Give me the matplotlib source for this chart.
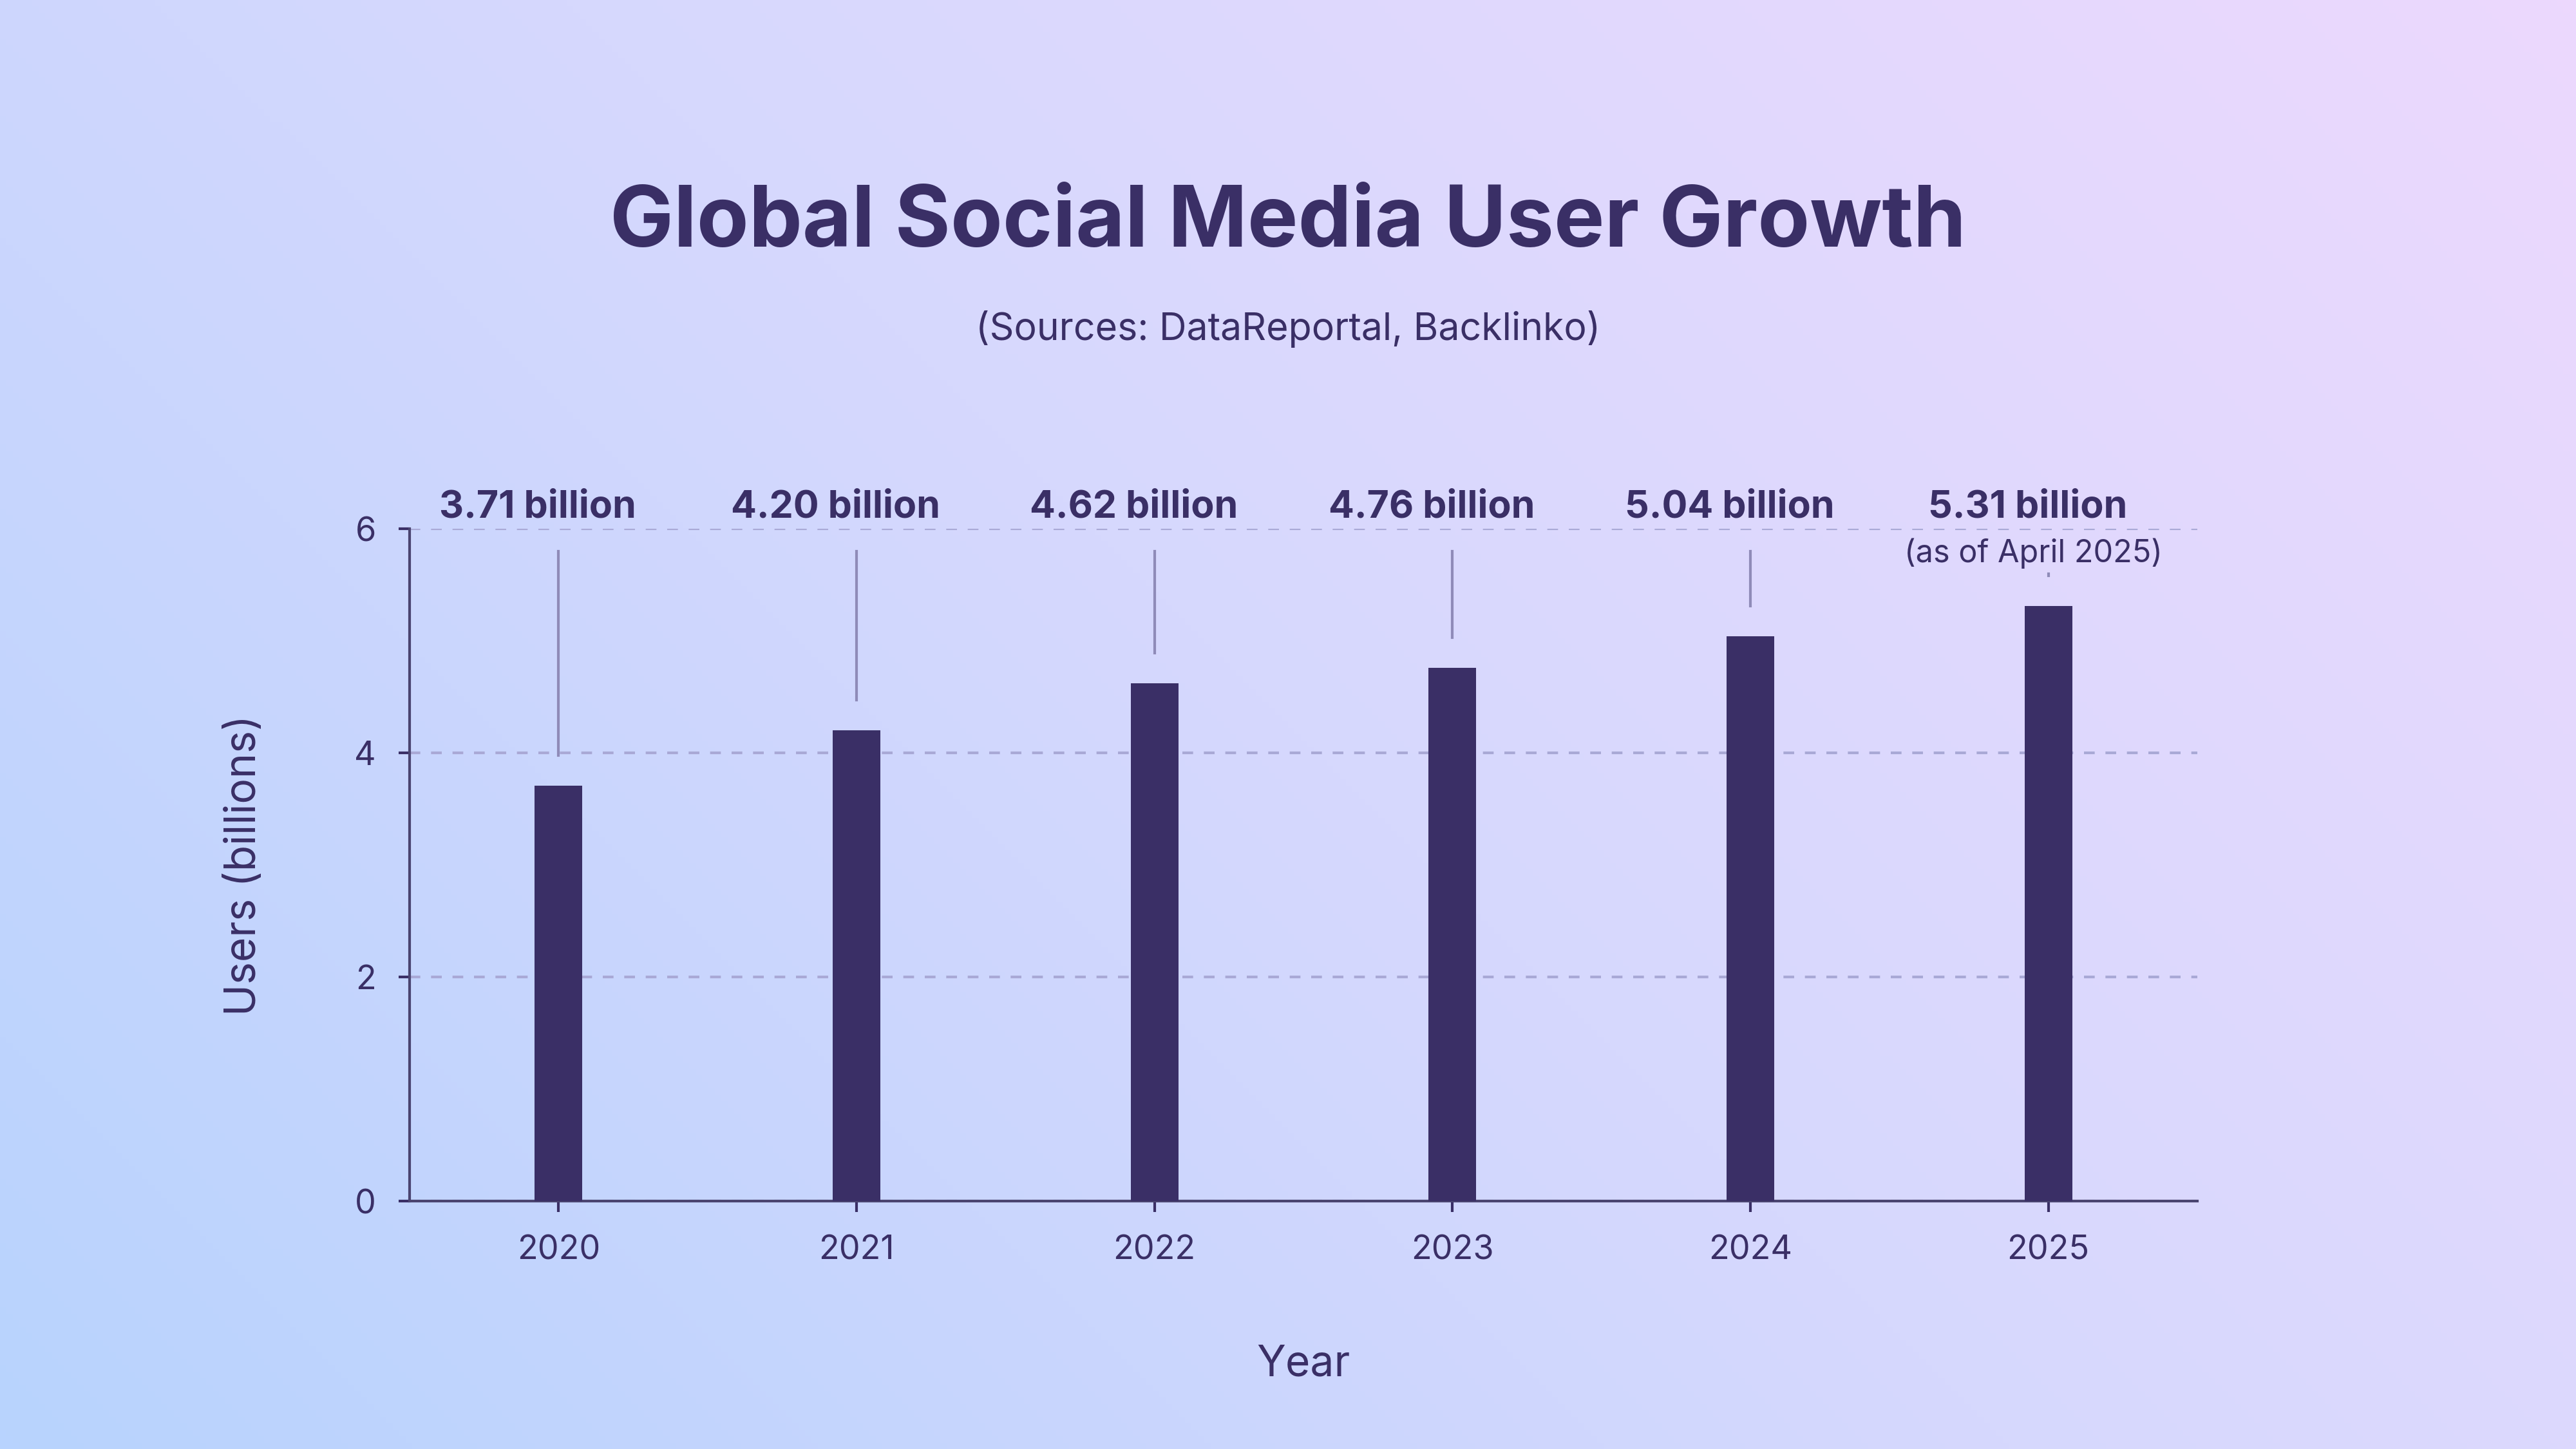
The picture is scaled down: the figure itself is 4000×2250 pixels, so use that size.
import numpy as np
import matplotlib
matplotlib.use("Agg")
import matplotlib.pyplot as plt
from matplotlib.colors import LinearSegmentedColormap

years = ["2020", "2021", "2022", "2023", "2024", "2025"]
users = [3.71, 4.20, 4.62, 4.76, 5.04, 5.31]
labels = ["3.71 billion", "4.20 billion", "4.62 billion", "4.76 billion", "5.04 billion", "5.31 billion"]
yticks = [0, 2, 4, 6]

plt.rcParams['font.family'] = ['Inter', 'DejaVu Sans']
dark = "#3a2f66"
fig = plt.figure(figsize=(16, 9), dpi=250)

# gradient background
bg = fig.add_axes([0, 0, 1, 1], zorder=-10)
xx, yy = np.meshgrid(np.linspace(0, 1, 400), np.linspace(0, 1, 225))
t = (xx * 16 + yy * 9) / 25
cmap = LinearSegmentedColormap.from_list("g", ["#b8d3fe", "#d6d8fd", "#ecd8fd"])
bg.imshow(t, cmap=cmap, origin="lower", aspect="auto", extent=[0, 1, 0, 1])
bg.axis("off")

ax = fig.add_axes([0.159, 0.171, 0.694, 0.464])
ax.set_facecolor("none")
x = np.arange(len(years))
ax.bar(x, users, width=0.16, color=dark, zorder=3)
ax.set_xlim(-0.5, 5.5)
ax.set_ylim(0, 6)
ax.set_yticks(yticks)
ax.set_xticks(x, years)
ax.grid(axis="y", linestyle=(0, (4, 4)), color="#a9a9d6", linewidth=1.2)
for s in ["top", "right"]:
    ax.spines[s].set_visible(False)
for s in ["left", "bottom"]:
    ax.spines[s].set_color("#4a4470")
    ax.spines[s].set_linewidth(1.2)
ax.tick_params(colors=dark, labelsize=15, length=5, width=1.2, pad=10)
ax.set_xlabel("Year", fontsize=19, color=dark, labelpad=35)
ax.set_ylabel("Users (billions)", fontsize=19, color=dark, labelpad=40)

for i, (v, lab) in enumerate(zip(users, labels)):
    ax.text(i - 0.07, 6.19, lab, ha="center", va="center", fontsize=17,
            fontweight="bold", color=dark, clip_on=False)
    top = 5.6 if i == 5 else 5.8
    ax.plot([i, i], [top, v + 0.27], color="#8f8bb8", linewidth=1.2, zorder=2, clip_on=False)
ax.text(5 - 0.05, 5.78, "(as of April 2025)", ha="center", va="center", fontsize=14, color=dark)

fig.text(0.5, 0.845, "Global Social Media User Growth", ha="center", va="center",
         fontsize=38, fontweight="bold", color=dark)
fig.text(0.5, 0.773, "(Sources: DataReportal, Backlinko)", ha="center", va="center",
         fontsize=17, color=dark)

fig.savefig("out.png", dpi=250)
